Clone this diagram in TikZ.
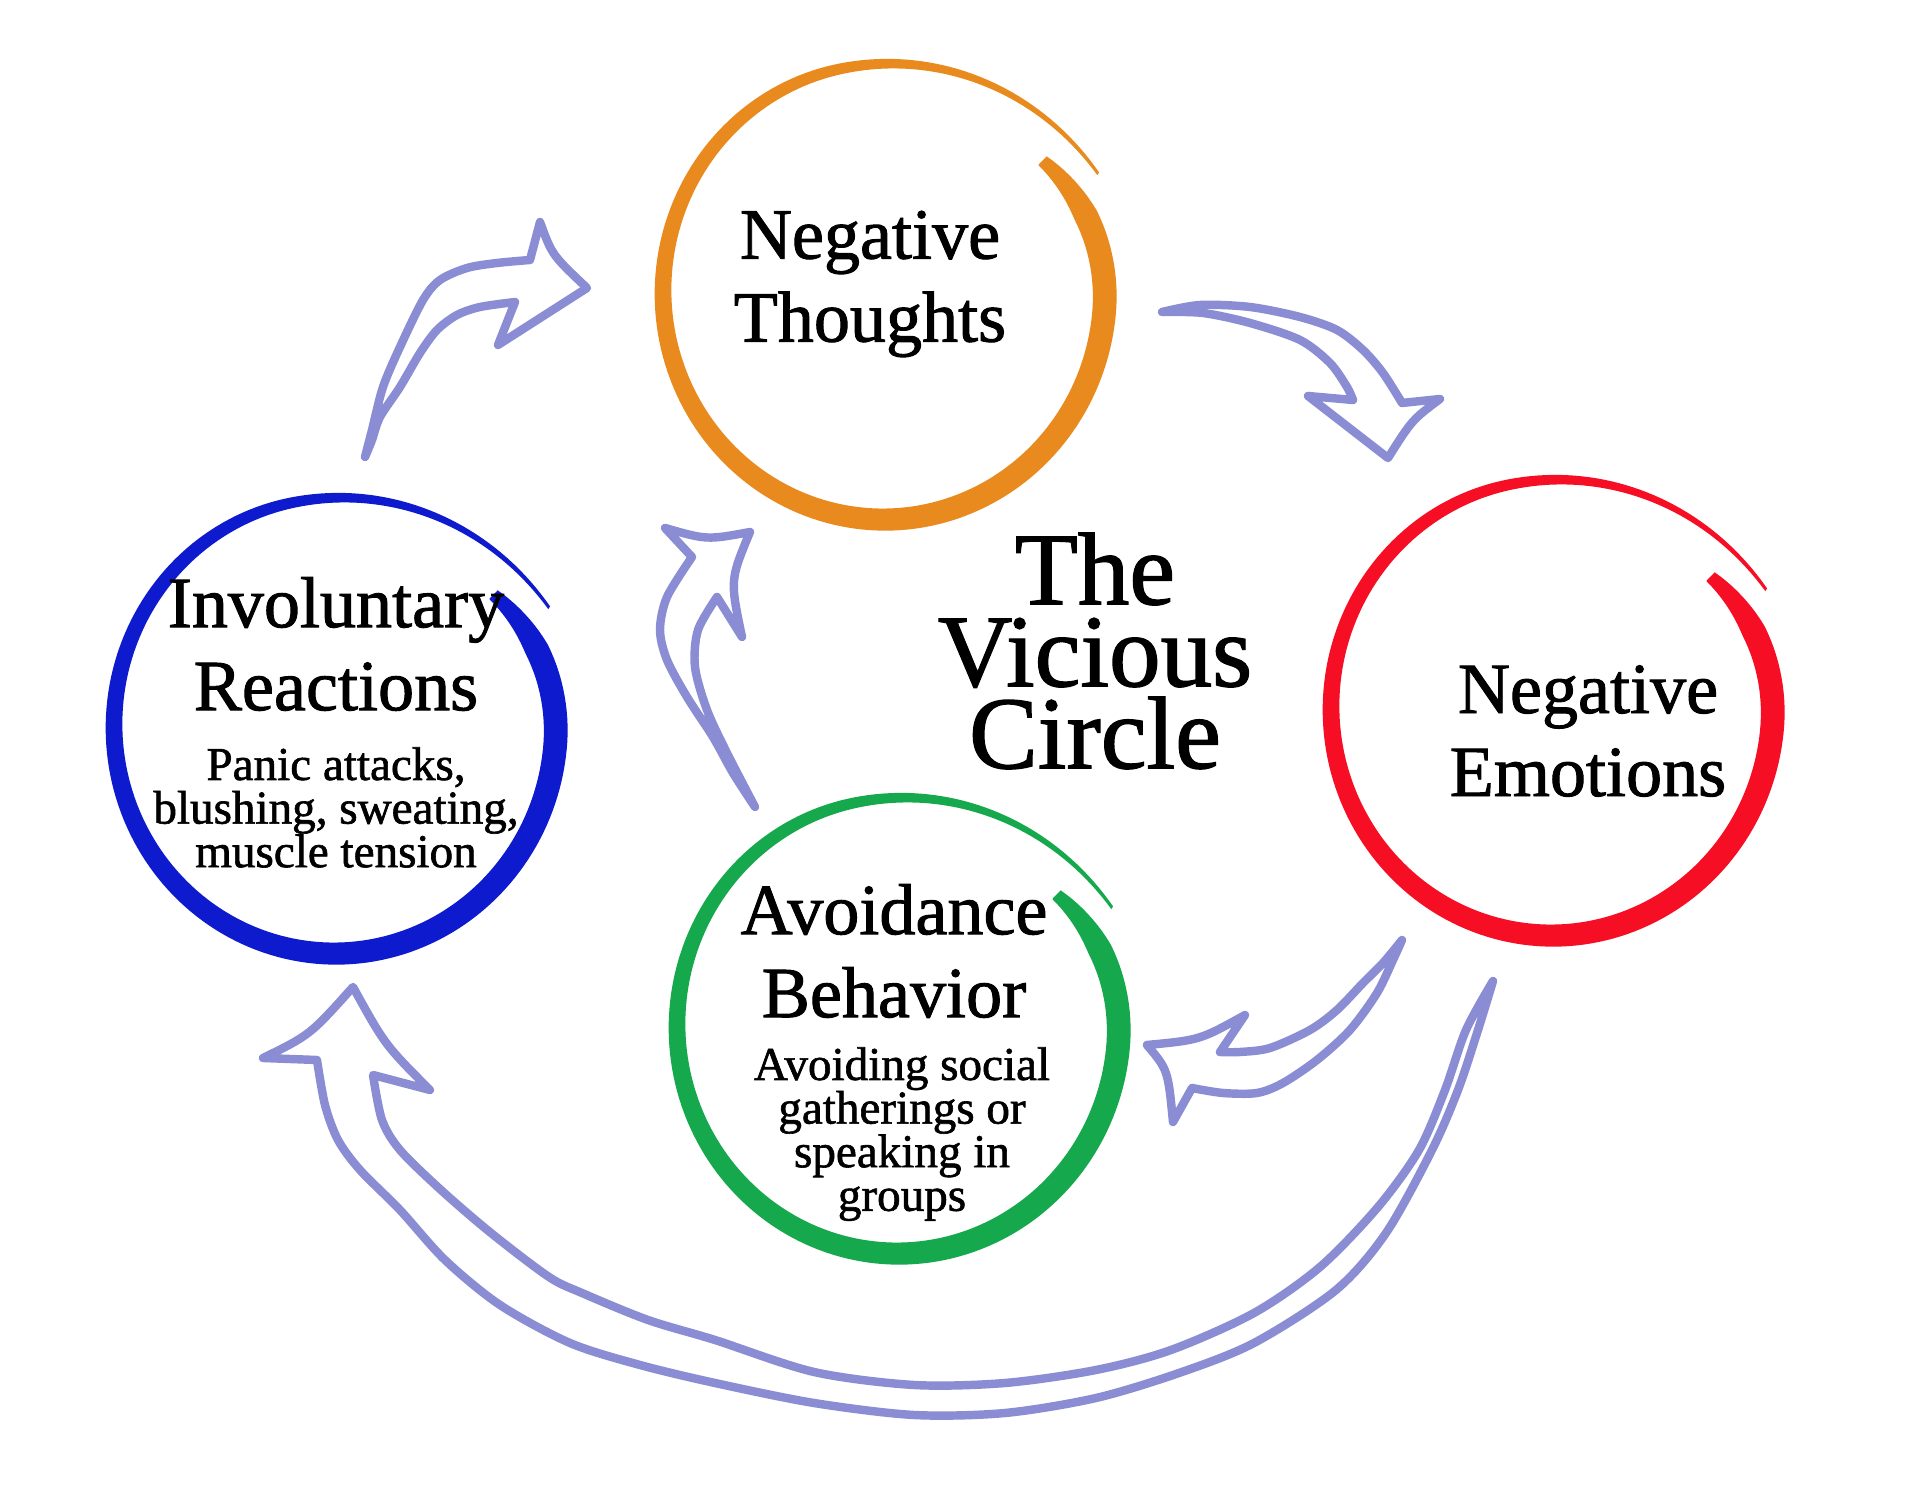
\documentclass[tikz,border=0pt]{standalone}
\usepackage{fontspec}
\setmainfont{Liberation Serif}
\newfontfamily\inkfont{Liberation Serif}[FakeBold=1.3]
\usetikzlibrary{calc,positioning}
\definecolor{thoughtc}{RGB}{233,138,30}
\definecolor{reactc}{RGB}{14,26,206}
\definecolor{emotc}{RGB}{246,14,36}
\definecolor{avoidc}{RGB}{22,168,76}
\definecolor{arrowc}{RGB}{138,141,211}
\tikzset{
  headline/.style={align=center, inner sep=0pt, font=\inkfont\fontsize{20.5}{23.6}\selectfont},
  noteline/.style={align=center, inner sep=0pt, font=\inkfont\fontsize{13.4}{12.4}\selectfont},
  titleline/.style={align=center, inner sep=0pt, font=\inkfont\fontsize{29.3}{23.3}\selectfont},
  blockarrow/.style={draw=arrowc, fill=white, line width=2.4pt, line join=round, line cap=round}
}
% brush stroke ring: #1 centre, #2 colour
\newcommand\brushring[2]{%
  \fill[#2, shift={(#1)}]
    plot[variable=\t, domain=0:1, samples=200]
      ({(ringr(\t)+ringw(\t)/2)*cos(39-371*\t)}, {-1.03*(ringr(\t)+ringw(\t)/2)*sin(39-371*\t)})
    -- plot[variable=\t, domain=1:0, samples=200]
      ({(ringr(\t)-ringw(\t)/2)*cos(39-371*\t)}, {-1.03*(ringr(\t)-ringw(\t)/2)*sin(39-371*\t)})
    -- cycle;}

\begin{document}
\begin{tikzpicture}[x=0.01cm, y=-0.01cm,
  declare function={
    ringr(\t)=221*(1-0.08*max(0,1-\t/0.12)^2+0.1*max(0,(\t-0.8)/0.2)^2);
    ringw(\t)=min(24-21*\t*\t, 12+240*\t);
  }]
\fill[white] (0,0) rectangle (1920,1498);
\useasboundingbox (0,0) rectangle (1920,1498);

% ring centres
\coordinate (ntc) at (884,292);
\coordinate (irc) at (335,726);
\coordinate (nec) at (1552,708);
\coordinate (abc) at (898,1026);

\brushring{ntc}{thoughtc}
\brushring{irc}{reactc}
\brushring{nec}{emotc}
\brushring{abc}{avoidc}

% labels
\node[headline] (nt) at ($(ntc)+(-14,-8)$) {Negative\\Thoughts};
\node[headline] (ir) at ($(irc)+(1,-82)$) {Involuntary\\Reactions};
\node[noteline, below=0.35cm of ir] (irnote) {Panic attacks,\\blushing, sweating,\\muscle tension};
\node[headline] (ne) at ($(nec)+(36,23)$) {Negative\\Emotions};
\node[headline] (ab) at ($(abc)+(-4,-75)$) {Avoidance\\Behavior};
\node[noteline, below=0.28cm of ab, xshift=0.08cm] (abnote) {Avoiding social\\gatherings or\\speaking in\\groups};
\node[titleline] (vc) at (1095,651) {The\\Vicious\\Circle};

% Reactions -> Thoughts
\coordinate (a1s) at ($(irc)+(30,-269)$);
\coordinate (a1e) at ($(ntc)+(-297,-4)$);
\draw[blockarrow] (a1s) -- plot[smooth] coordinates {(365,457) (372,430) (383,387) (400,347) (423,300) (440,280) (467,268) (497,263) (530,260)}
  -- (540,222) .. controls (552,255) .. (a1e) -- (498,345) -- (515,302)
  -- plot[smooth] coordinates {(515,302) (480,307) (457,315) (437,330) (420,353) (400,387) (380,417) (372,440) (365,457)} -- cycle;

% Thoughts -> Emotions
\coordinate (a2s) at ($(ntc)+(278,20)$);
\coordinate (a2e) at ($(nec)+(-164,-250)$);
\draw[blockarrow] (a2s) -- plot[smooth] coordinates {(1162,312) (1200,305) (1250,307) (1300,317) (1337,330) (1363,350) (1383,373) (1402,403)}
  -- (1440,399) .. controls (1412,420) .. (a2e) -- (1308,396) -- (1353,400)
  -- plot[smooth] coordinates {(1353,400) (1347,387) (1330,363) (1300,340) (1250,323) (1203,313) (1162,312)} -- cycle;

% Emotions -> Avoidance
\coordinate (a3s) at ($(nec)+(-150,232)$);
\coordinate (a3e) at ($(abc)+(249,19)$);
\draw[blockarrow] (a3s) -- plot[smooth] coordinates {(1402,940) (1383,963) (1363,983) (1337,1010) (1310,1030) (1270,1048) (1240,1052) (1220,1052)}
  -- (1245,1015) .. controls (1200,1040) .. (a3e) .. controls (1168,1070) .. (1173,1122) -- (1192,1088)
  -- plot[smooth] coordinates {(1192,1088) (1223,1093) (1257,1093) (1283,1083) (1317,1060) (1350,1030) (1377,993) (1393,960) (1402,940)} -- cycle;

% Avoidance -> Thoughts
\coordinate (a4s) at ($(abc)+(-143,-219)$);
\coordinate (a4e) at ($(ntc)+(-134,240)$);
\draw[blockarrow] (a4s) -- plot[smooth] coordinates {(755,807) (733,773) (713,737) (687,697) (667,660) (660,630) (667,597) (692,557)}
  -- (665,528) .. controls (707,540) .. (a4e) .. controls (730,580) .. (742,637) -- (717,597)
  -- plot[smooth] coordinates {(717,597) (698,630) (695,667) (707,710) (727,753) (755,807)} -- cycle;

% Emotions -> Reactions, round the bottom
\coordinate (a5s) at ($(nec)+(-59,273)$);
\coordinate (a5e) at ($(irc)+(18,261)$);
\draw[blockarrow] (a5s) -- plot[smooth] coordinates {(1493,981) (1478,1030) (1458,1090) (1432,1150) (1386,1233) (1336,1290) (1254,1343) (1179,1373) (1096,1398) (1005,1413) (914,1415) (814,1403) (715,1383) (640,1365) (570,1343) (500,1305) (445,1260) (400,1210) (360,1170) (338,1140) (325,1105) (317,1060)}
  -- (263,1058) .. controls (310,1035) .. (a5e) .. controls (385,1045) .. (430,1090) -- (373,1075)
  -- plot[smooth] coordinates {(373,1075) (382,1120) (400,1150) (441,1190) (491,1233) (549,1277) (582,1293) (648,1320) (715,1340) (814,1372) (914,1385) (1005,1383) (1096,1370) (1171,1350) (1254,1313) (1320,1267) (1378,1207) (1419,1150) (1445,1090) (1466,1030) (1493,981)} -- cycle;
\end{tikzpicture}
\end{document}
